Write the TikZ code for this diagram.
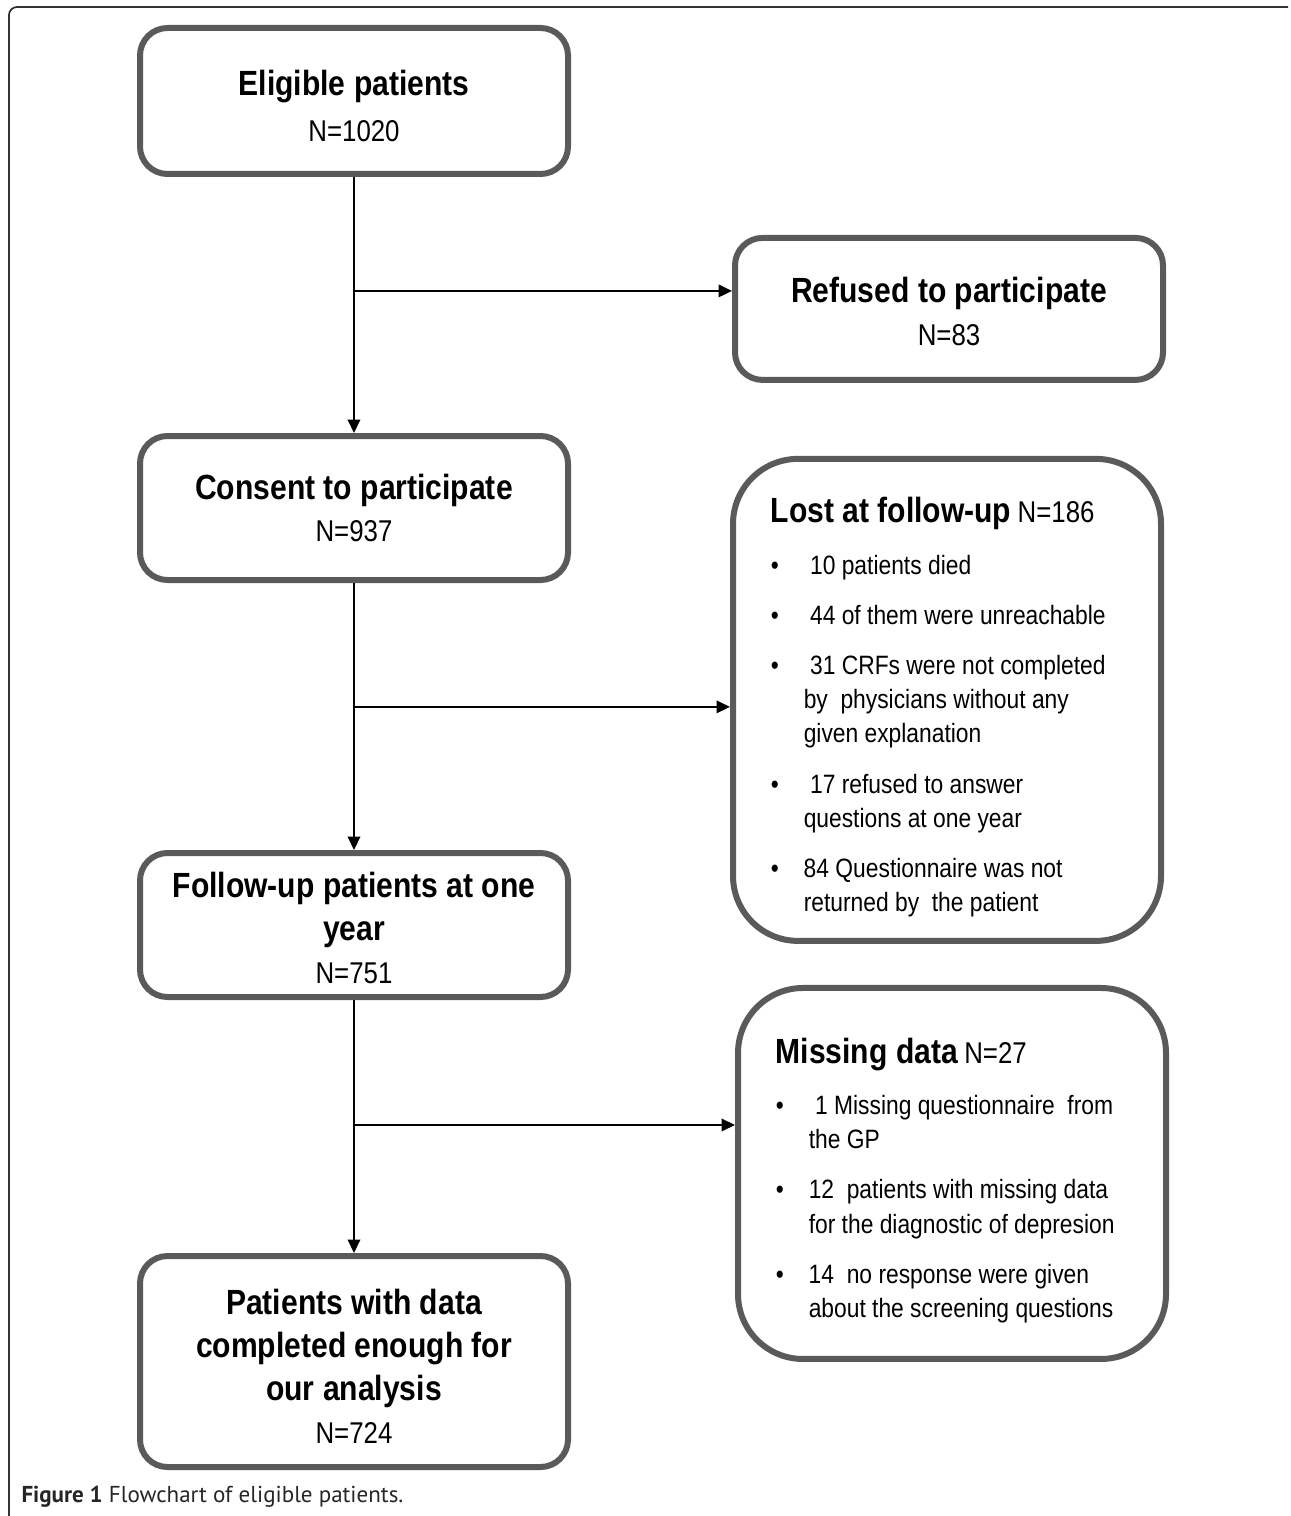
\documentclass[tikz,border=0pt]{standalone}
\usepackage{fontspec}
\usepackage{tikz}
\usetikzlibrary{positioning,calc,arrows.meta}

\newfontfamily\boxfont{Liberation Sans}[FakeStretch=0.86]
\newfontfamily\capfont{PT Sans}
\definecolor{boxgray}{HTML}{5A5A5A}

\newcommand{\heading}[1]{{\fontsize{19.9pt}{23.9pt}\selectfont\bfseries #1}}
\newcommand{\ncount}[1]{{\fontsize{17.1pt}{20pt}\selectfont #1}}
\newcommand{\bul}{\makebox[0.66cm][l]{\textbullet}}
\newcommand{\cont}{\hspace*{0.66cm}}
\newcommand{\topstrut}[1]{\rule{0pt}{#1}}

\begin{document}
\begin{tikzpicture}[
    node distance=5.12cm and 7.56cm,
    process/.style={draw=boxgray, line width=0.12cm, rounded corners=0.55cm, minimum width=8.56cm, minimum height=2.88cm, align=center, font={\boxfont\fontsize{17.1pt}{24.4pt}\selectfont}},
    note/.style={process, rounded corners=1.3cm, text width=7.05cm, align=flush left, font={\boxfont\fontsize{15.1pt}{19.4pt}\selectfont}},
    >={Triangle[length=0.27cm, width=0.25cm]},
    line width=0.04cm
]
\useasboundingbox (0,0) rectangle (25.8,-30.32);

% frame of the figure
\draw[black!80, line width=0.035cm, rounded corners=0.16cm] (0.18,-30.5) -- (0.18,-0.14) -- (25.76,-0.14);

\node (elig)     [process, minimum height=2.92cm] at (7.08,-2.02) {\topstrut{0.71cm}\heading{Eligible patients}\\[0.06cm] N=1020};
\node (consent)  [process, below=of elig] {\heading{Consent to participate}\\ N=937};
\node (followup) [process, below=5.34cm of consent] {\topstrut{0.63cm}\heading{Follow-up patients at one}\\ \heading{year}\\ N=751};
\node (patients) [process, minimum height=4.22cm, below=5.06cm of followup] {\topstrut{0.71cm}\heading{Patients with data}\\ \heading{completed enough for}\\ \heading{our analysis}\\ N=724};

\coordinate (b1) at ($(elig.south)!0.445!(consent.north)$);
\coordinate (b2) at ($(consent.south)!0.464!(followup.north)$);
\coordinate (b3) at ($(followup.south)!0.494!(patients.north)$);

\node (refused) [process, minimum height=2.84cm, right=7.56cm of b1, yshift=-0.36cm] {\topstrut{0.6cm}\heading{Refused to participate}\\ N=83};

\node (lost) [note, minimum height=9.64cm, right=7.52cm of b2, yshift=0.14cm] {\topstrut{0.79cm}\heading{Lost at follow-up} \ncount{N=186}\\[0.36cm]
\bul~10 patients died\\[0.32cm]
\bul~44 of them were unreachable\\[0.32cm]
\bul~31 CRFs were not completed\\
\cont by~ physicians without any\\
\cont given explanation\\[0.32cm]
\bul~17 refused to answer\\
\cont questions at one year\\[0.32cm]
\bul 84 Questionnaire was not\\
\cont returned by~ the patient};

\node (missing) [note, minimum height=7.42cm, right=7.62cm of b3, yshift=-0.97cm] {\topstrut{0.79cm}\heading{Missing data} \ncount{N=27}\\[0.34cm]
\bul~1 Missing questionnaire~ from\\
\cont the GP\\[0.32cm]
\bul 12~ patients with missing data\\
\cont for the diagnostic of depresion\\[0.32cm]
\bul 14~ no response were given\\
\cont about the screening questions};

\node (caption) [anchor=base west, inner sep=0pt, text=black!85, font={\capfont\fontsize{13.1pt}{15pt}\selectfont}] at (0.41,-30.04) {\textbf{Figure 1} Flowchart of eligible patients.};

\draw[->] (elig) -- (consent);
\draw[->] (consent) -- (followup);
\draw[->] (followup) -- (patients);

\draw[->] (b1) -- (b1 -| refused.west);
\draw[->] (b2) -- (b2 -| lost.west);
\draw[->] (b3) -- (b3 -| missing.west);

\end{tikzpicture}
\end{document}
